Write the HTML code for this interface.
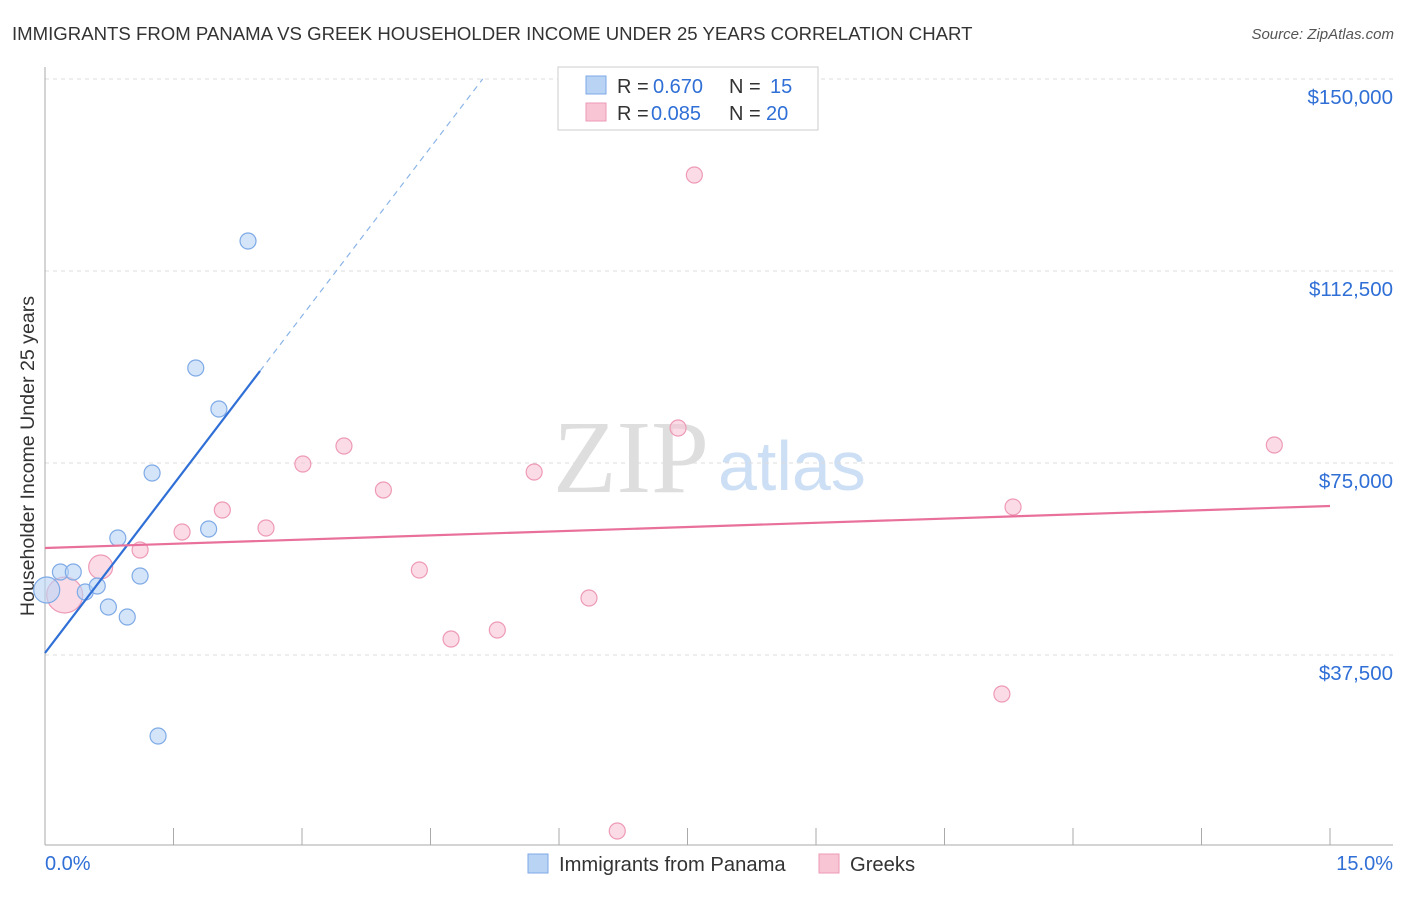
<!DOCTYPE html>
<html><head><meta charset="utf-8"><style>
body{margin:0;background:#fff;font-family:"Liberation Sans",sans-serif;}
</style></head><body>
<svg id="chart" width="1406" height="892" xmlns="http://www.w3.org/2000/svg" font-family="Liberation Sans, sans-serif">
<text x="12" y="40" font-size="18.6" fill="#333">IMMIGRANTS FROM PANAMA VS GREEK HOUSEHOLDER INCOME UNDER 25 YEARS CORRELATION CHART</text>
<text x="1394" y="39" font-size="15" fill="#555" font-style="italic" text-anchor="end">Source: ZipAtlas.com</text>
<text x="0" y="0" transform="translate(34,456) rotate(-90)" font-size="19.6" fill="#333" text-anchor="middle">Householder Income Under 25 years</text>
<text x="553" y="492" font-size="104" fill="#dedede" style="font-family:'Liberation Serif',serif">ZIP</text>
<text x="718" y="490" font-size="70" fill="#cddff4">atlas</text>
<g id="grid"></g><g id="marks"></g>
<g>
<rect x="558" y="67" width="260" height="63" fill="#fff" stroke="#ccc"/>
<rect x="586" y="76" width="20" height="18" fill="#b9d3f5" stroke="#7eaae6"/>
<rect x="586" y="103" width="20" height="18" fill="#f8c5d5" stroke="#ee9ab5"/>
<text x="617" y="93" font-size="20" fill="#333">R =</text>
<text x="653" y="93" font-size="20" fill="#2f6fd6">0.670</text>
<text x="729" y="93" font-size="20" fill="#333">N =</text>
<text x="770" y="93" font-size="20" fill="#2f6fd6">15</text>
<text x="617" y="120" font-size="20" fill="#333">R =</text>
<text x="651" y="120" font-size="20" fill="#2f6fd6">0.085</text>
<text x="729" y="120" font-size="20" fill="#333">N =</text>
<text x="766" y="120" font-size="20" fill="#2f6fd6">20</text>
</g>
<g>
<rect x="528" y="854" width="20" height="19" fill="#b9d3f5" stroke="#7eaae6"/>
<text x="559" y="871" font-size="20.2" fill="#333">Immigrants from Panama</text>
<rect x="819" y="854" width="20" height="19" fill="#f8c5d5" stroke="#ee9ab5"/>
<text x="850" y="871" font-size="20.2" fill="#333">Greeks</text>
</g>
<text x="45" y="870" font-size="20" fill="#2f6fd6">0.0%</text>
<text x="1393" y="870" font-size="20" fill="#2f6fd6" text-anchor="end">15.0%</text>
</svg>
<script>
const yTicks=[37500,75000,112500,150000];
const yTickLabels=["$37,500","$75,000","$112,500","$150,000"];
const blueX=[0.02,0.18,0.33,0.47,0.61,0.74,0.85,0.96,1.11,1.25,1.32,1.76,1.91,2.03,2.37];
const blueY=[50195,53711,53711,49805,50977,46875,60352,44922,52930,73047,21680,93555,62109,85547,118359];
const blueR=[13,8,8,8,8,8,8,8,8,8,8,8,8,8,8];
const pinkX=[0.23,0.65,1.11,1.60,2.07,2.58,3.01,3.49,3.95,4.37,4.74,5.28,5.71,6.35,6.68,7.39,7.58,11.17,11.30,14.35];
const pinkY=[49219,54688,58008,61523,65820,62305,74805,78320,69727,54102,40625,42383,73242,48633,3125,81836,131250,29883,66406,78516];
const pinkR=[18,12,8,8,8,8,8,8,8,8,8,8,8,8,8,8,8,8,8,8];
const blueTrend=[37891,21943];
const blueSolidEnd=2.51, blueDashEnd=5.11;
const pinkTrend=[58398,66602];
const X=v=>45+v/15*1285, Y=v=>847-v/37500*192;
const NS="http://www.w3.org/2000/svg";
function mk(t,a,p){const e=document.createElementNS(NS,t);for(const k in a)e.setAttribute(k,a[k]);p.appendChild(e);return e;}
const grid=document.getElementById('grid'), marks=document.getElementById('marks');
yTicks.forEach((t,i)=>{
 const l=mk('line',{x1:45,x2:1393,y1:Y(t),y2:Y(t),stroke:'#ddd','stroke-dasharray':'4,4'},grid);
 
 
 const tx=mk('text',{x:1393,y:Y(t)+25,'font-size':20.5,fill:'#2f6fd6','text-anchor':'end'},grid);
 tx.textContent=yTickLabels[i];
 
 
});
const ax=mk('line',{x1:45,x2:1393,y1:845,y2:845,stroke:'#aaa'},grid);


const ay=mk('line',{x1:45,x2:45,y1:67,y2:845,stroke:'#aaa'},grid);


for(let i=1;i<=10;i++){const t=mk('line',{x1:X(i*1.5),x2:X(i*1.5),y1:828,y2:845,stroke:'#aaa'},grid);
 
 }
pinkX.forEach((x,i)=>{const c=mk('circle',{cx:X(x),cy:Y(pinkY[i]),r:pinkR[i],fill:'#f8c5d5','fill-opacity':0.6,stroke:'#ee9ab5','stroke-width':1.2},marks);
 
 });
blueX.forEach((x,i)=>{const c=mk('circle',{cx:X(x),cy:Y(blueY[i]),r:blueR[i],fill:'#b9d3f5','fill-opacity':0.6,stroke:'#7eaae6','stroke-width':1.2},marks);
 
 });
const bt=x=>blueTrend[0]+blueTrend[1]*x;
const b1=mk('line',{x1:X(0),y1:Y(bt(0)),x2:X(blueSolidEnd),y2:Y(bt(blueSolidEnd)),stroke:'#2f6fd6','stroke-width':2.2},marks);


const b2=mk('line',{x1:X(blueSolidEnd),y1:Y(bt(blueSolidEnd)),x2:X(blueDashEnd),y2:Y(bt(blueDashEnd)),stroke:'#8ab4e8','stroke-width':1.2,'stroke-dasharray':'6,5'},marks);


const p1=mk('line',{x1:X(0),y1:Y(pinkTrend[0]),x2:X(15),y2:Y(pinkTrend[1]),stroke:'#e8709a','stroke-width':2.2},marks);


</script>
</body></html>
